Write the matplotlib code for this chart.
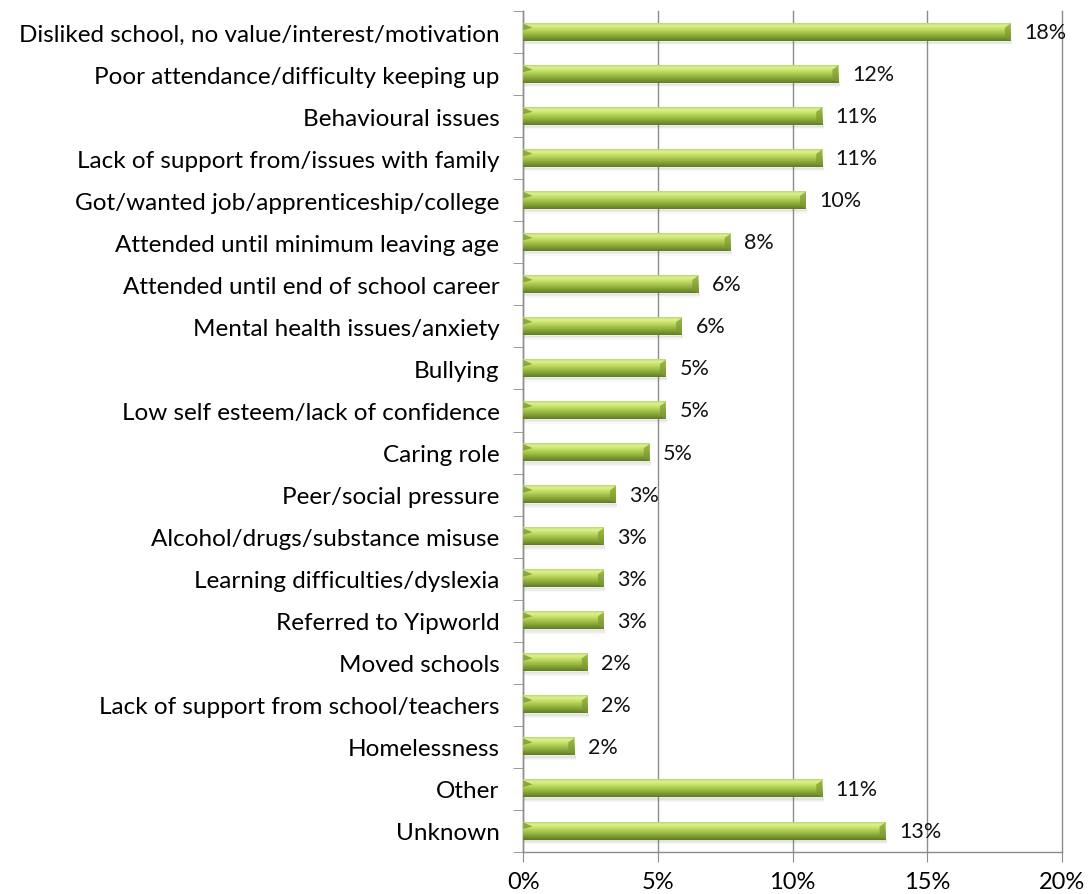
import numpy as np
import matplotlib
matplotlib.use("Agg")
import matplotlib.pyplot as plt
from matplotlib.colors import LinearSegmentedColormap
from matplotlib.patches import Rectangle, Polygon

reasons = [
    "Disliked school, no value/interest/motivation",
    "Poor attendance/difficulty keeping up",
    "Behavioural issues",
    "Lack of support from/issues with family",
    "Got/wanted job/apprenticeship/college",
    "Attended until minimum leaving age",
    "Attended until end of school career",
    "Mental health issues/anxiety",
    "Bullying",
    "Low self esteem/lack of confidence",
    "Caring role",
    "Peer/social pressure",
    "Alcohol/drugs/substance misuse",
    "Learning difficulties/dyslexia",
    "Referred to Yipworld",
    "Moved schools",
    "Lack of support from school/teachers",
    "Homelessness",
    "Other",
    "Unknown",
]
shares = [18.1, 11.7, 11.1, 11.1, 10.5, 7.7, 6.5, 5.9, 5.3, 5.3,
          4.7, 3.45, 3.0, 3.0, 3.0, 2.4, 2.4, 1.9, 11.1, 13.45]
xticks = [0, 5, 10, 15, 20]

plt.rcParams["font.family"] = ["Lato", "DejaVu Sans"]

fig = plt.figure(figsize=(10.92, 8.95), dpi=100)
ax = fig.add_axes([0.479, 0.047, 0.4935, 0.9395])

n = len(reasons)
ypos = np.arange(n)[::-1]
bar_h = 0.41

# green cylinder-style shading, bottom -> top
green = LinearSegmentedColormap.from_list(
    "bar", [(0.0, "#5f7a24"), (0.12, "#71902c"), (0.45, "#a3c24a"),
            (0.7, "#c8e36c"), (0.88, "#dcf28e"), (1.0, "#b9d668")])
grad = np.linspace(0, 1, 64).reshape(-1, 1)

for y, v in zip(ypos, shares):
    # soft drop shadow under each bar
    for k, a in enumerate([0.10, 0.07, 0.04]):
        ax.add_patch(Rectangle((0.05, y - bar_h / 2 - 0.05 - 0.03 * k), v,
                               0.06, color="#606060", alpha=a, lw=0, zorder=2))
    ax.imshow(grad, cmap=green, aspect="auto", origin="lower",
              extent=(0, v, y - bar_h / 2, y + bar_h / 2), zorder=3,
              interpolation="bilinear")
    # bevelled end cap and left notch
    cap = 0.22
    ax.add_patch(Polygon([(v - cap, y - bar_h / 2 + 0.08), (v, y - bar_h / 2),
                          (v, y + bar_h / 2), (v - cap, y + bar_h / 2 - 0.1)],
                         closed=True, color="#7d9a32", alpha=0.7, lw=0, zorder=4))
    ax.add_patch(Polygon([(0, y + bar_h / 2), (0.35, y + bar_h / 2 - 0.1),
                          (0, y + bar_h / 2 - 0.16)],
                         closed=True, color="#6f8c2c", alpha=0.7, lw=0, zorder=4))
    ax.text(v + 0.5, y, f"{v:.0f}%", va="center", ha="left",
            fontsize=15.5, color="#111111", zorder=5)

ax.set_xlim(0, 20)
ax.set_ylim(-0.5, n - 0.5)
ax.set_xticks(xticks)
ax.set_xticklabels([f"{t}%" for t in xticks], fontsize=17)
ax.set_yticks(ypos)
ax.set_yticklabels(reasons, fontsize=17.5)
ax.set_yticks(np.arange(-0.5, n, 1.0), minor=True)
ax.tick_params(axis="y", which="major", length=0, pad=17)
ax.tick_params(axis="y", which="minor", length=7, color="#8c8c8c", direction="out")
ax.tick_params(axis="x", length=7, color="#8c8c8c", direction="out", pad=7)

ax.grid(axis="x", color="#8c8c8c", lw=1.0, zorder=0)
for gl in ax.get_xgridlines():
    gl.set_clip_on(False)
ax.set_axisbelow(True)
for side in ["top", "right"]:
    ax.spines[side].set_visible(False)
for side in ["left", "bottom"]:
    ax.spines[side].set_color("#8c8c8c")
    ax.spines[side].set_linewidth(1.0)

fig.savefig("out.png", dpi=100, facecolor="white")
